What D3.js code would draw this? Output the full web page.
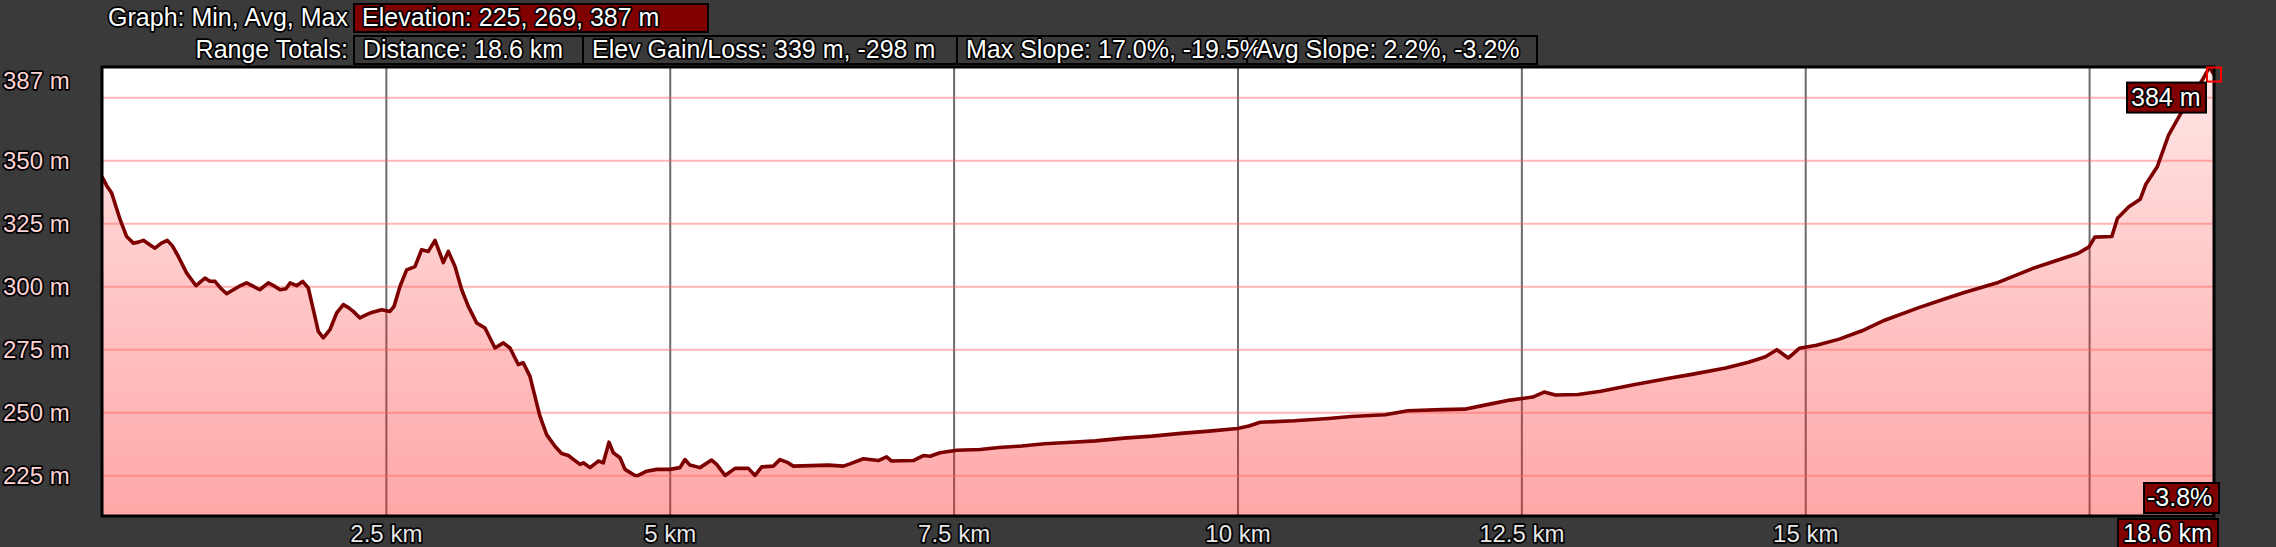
<!DOCTYPE html>
<html>
<head>
<meta charset="utf-8">
<title>Elevation profile</title>
<script src="https://d3js.org/d3.v7.min.js"></script>
<style>
  body { margin: 0; background: #3a3a3a; }
  text { font-family: "Liberation Sans", Arial, sans-serif; paint-order: stroke; stroke: #000; stroke-linejoin: round; }
</style>
</head>
<body>
<div id="chart"></div>
<script>
// distance along route (km) and elevation (m)
const distKm = [0, 0.04, 0.085, 0.12, 0.16, 0.217, 0.276, 0.32, 0.364, 0.42, 0.467, 0.52, 0.575, 0.62, 0.672,
  0.746, 0.828, 0.907, 0.95, 0.995, 1.05, 1.098, 1.157, 1.21, 1.274, 1.33, 1.39, 1.465, 1.52, 1.568, 1.62,
  1.656, 1.714, 1.767, 1.817, 1.861, 1.905, 1.949, 2.008, 2.067, 2.125, 2.17, 2.213, 2.272, 2.32, 2.375,
  2.463, 2.536, 2.572, 2.624, 2.683, 2.756, 2.815, 2.874, 2.933, 3.006, 3.05, 3.109, 3.168, 3.226, 3.3,
  3.373, 3.461, 3.534, 3.593, 3.666, 3.71, 3.769, 3.813, 3.857, 3.916, 3.989, 4.048, 4.107, 4.16, 4.21,
  4.239, 4.298, 4.371, 4.415, 4.465, 4.503, 4.562, 4.606, 4.694, 4.723, 4.797, 4.885, 5.002, 5.09, 5.134,
  5.178, 5.266, 5.369, 5.413, 5.487, 5.575, 5.692, 5.751, 5.81, 5.912, 5.971, 6.03, 6.088, 6.397, 6.529,
  6.587, 6.705, 6.837, 6.91, 6.954, 7.145, 7.233, 7.292, 7.38, 7.527, 7.732, 7.9, 8.1, 8.3, 8.5, 8.75, 9.0,
  9.25, 9.5, 9.75, 10.0, 10.1, 10.2, 10.5, 10.8, 11.0, 11.3, 11.5, 11.8, 12.0, 12.2, 12.4, 12.6, 12.7, 12.8,
  13.0, 13.2, 13.5, 13.8, 14.0, 14.3, 14.5, 14.65, 14.75, 14.85, 14.95, 15.1, 15.3, 15.5, 15.7, 16.0, 16.2,
  16.4, 16.7, 17.0, 17.2, 17.4, 17.5, 17.55, 17.7, 17.75, 17.85, 17.95, 18.0, 18.1, 18.2, 18.35, 18.5, 18.56, 18.6];
const elevM = [343.5, 340, 337, 332, 326.4, 319.7, 317.1, 317.5, 318.2, 316.5, 315.1, 317, 318.2, 316, 311.8,
  305.2, 300.2, 303.2, 302, 301.9, 299, 297, 298.6, 300, 301.3, 300, 298.6, 301.3, 300, 298.6, 299,
  301.3, 300.2, 301.9, 299.3, 290.7, 282.1, 279.5, 282.8, 289.4, 292.7, 291.5, 290, 287.4, 288.5, 289.6,
  290.7, 290, 292, 299.9, 306.5, 307.8, 314.5, 313.8, 318.2, 309.4, 313.8, 307.8, 298.6, 292, 285.4,
  283.4, 275.5, 277.5, 275.5, 268.9, 269.6, 264.2, 256.3, 248.4, 241.1, 236.5, 233.6, 232.8, 231, 229.3,
  229.9, 228, 230.6, 229.9, 238.1, 233.9, 231.9, 227.3, 224.9, 224.9, 226.6, 227.3, 227.3, 228, 231.2,
  229, 228, 231, 229.3, 224.9, 227.7, 227.7, 224.9, 228.3, 228.6, 231.2, 230.2, 228.6, 229, 228.6,
  229.5, 231.5, 230.8, 232.3, 230.6, 230.8, 232.8, 232.5, 233.9, 234.9, 235.2, 236, 236.6, 237.5, 238, 238.6, 239.7,
  240.5, 241.6, 242.5, 243.5, 244.5, 246, 246.6, 247.5, 248.3, 249, 250.6, 251, 251.2, 253, 254.8, 256, 258, 256.8,
  257, 258.3, 261, 263.5, 265, 267.5, 269.8, 272, 274.8, 271.5, 275.4, 276.6, 279, 282.3, 286.5, 291.5, 294.5,
  297.5, 301.5, 307, 310, 313, 315.6, 319.5, 319.7, 327, 331.5, 334.5, 340.5, 347.4, 360, 372, 382, 387, 384];

const xTicks = [2.5, 5, 7.5, 10, 12.5, 15, 17.5];
const xTickLabels = ["2.5 km", "5 km", "7.5 km", "10 km", "12.5 km", "15 km", ""];
const yTicks = [225, 250, 275, 300, 325, 350, 375];
const yTickLabels = ["225 m", "250 m", "275 m", "300 m", "325 m", "350 m", ""];
const yMaxLabel = "387 m";

const graphLabel = "Graph: Min, Avg, Max";
const graphStat = "Elevation: 225, 269, 387 m";
const rangeLabel = "Range Totals:";
const rangeStats = ["Distance: 18.6 km", "Elev Gain/Loss: 339 m, -298 m", "Max Slope: 17.0%, -19.5%", "Avg Slope: 2.2%, -3.2%"];

const cursorKm = 18.6, cursorElev = 384;
const cursorElevLabel = "384 m", cursorSlopeLabel = "-3.8%", cursorDistLabel = "18.6 km";

const W = 2276, H = 547;
const plot = {left: 102, right: 2214, top: 67, bottom: 516};

const svg = d3.select("#chart").append("svg")
    .attr("width", W).attr("height", H)
    .style("display", "block");

svg.append("rect").attr("width", W).attr("height", H).attr("fill", "#3a3a3a");

const x = d3.scaleLinear().domain([0, 18.6]).range([plot.left, plot.right]);
const y = d3.scaleLinear().domain([208.8, 387]).range([plot.bottom, plot.top]);

const data = distKm.map((d, i) => [d, elevM[i]]);

// gradient for the area
const defs = svg.append("defs");
const grad = defs.append("linearGradient").attr("id", "fillGrad")
    .attr("gradientUnits", "userSpaceOnUse")
    .attr("x1", 0).attr("x2", 0).attr("y1", plot.top).attr("y2", plot.bottom);
grad.append("stop").attr("offset", 0).attr("stop-color", "rgb(255,30,30)").attr("stop-opacity", 0.11);
grad.append("stop").attr("offset", 1).attr("stop-color", "rgb(255,30,30)").attr("stop-opacity", 0.39);

svg.append("rect")
    .attr("x", plot.left).attr("y", plot.top)
    .attr("width", plot.right - plot.left).attr("height", plot.bottom - plot.top)
    .attr("fill", "#fff");

// vertical grid (under the area)
const xGrid = d3.axisBottom(x).tickValues(xTicks).tickSize(-(plot.bottom - plot.top)).tickFormat("");
svg.append("g").attr("transform", `translate(0,${plot.bottom})`).call(xGrid)
    .call(g => g.select(".domain").remove())
    .selectAll("line").attr("stroke", "#6a6a6a").attr("stroke-width", 2);

// area
svg.append("path").datum(data)
    .attr("fill", "url(#fillGrad)")
    .attr("d", d3.area().x(d => x(d[0])).y0(plot.bottom).y1(d => y(d[1])));

// horizontal grid
const yGrid = d3.axisLeft(y).tickValues(yTicks).tickSize(-(plot.right - plot.left)).tickFormat("");
svg.append("g").attr("transform", `translate(${plot.left},0)`).call(yGrid)
    .call(g => g.select(".domain").remove())
    .selectAll("line").attr("stroke", "#ff5e5e").attr("stroke-opacity", 0.45).attr("stroke-width", 2);

// elevation line
svg.append("path").datum(data)
    .attr("fill", "none")
    .attr("stroke", "#7d0000")
    .attr("stroke-width", 3.6)
    .attr("stroke-linejoin", "round")
    .attr("d", d3.line().x(d => x(d[0])).y(d => y(d[1])));

// frame
svg.append("path")
    .attr("d", `M${plot.left},${plot.top}H${plot.right}V${plot.bottom}H${plot.left}Z`)
    .attr("fill", "none").attr("stroke", "#000").attr("stroke-width", 3);

// y labels
const yAxis = d3.axisLeft(y).tickValues(yTicks).tickSize(0).tickFormat((d, i) => yTickLabels[i]);
svg.append("g").call(yAxis)
    .call(g => g.select(".domain").remove())
    .selectAll("text")
    .attr("x", 3).attr("dy", "0.35em")
    .attr("text-anchor", "start")
    .attr("font-size", 24)
    .attr("fill", "#ffd4d4")
    .attr("stroke-width", 3.5);
svg.append("text").attr("x", 3).attr("y", 89)
    .attr("font-size", 24).attr("fill", "#ffd4d4").attr("stroke-width", 3.5)
    .text(yMaxLabel);

// x labels
const xAxis = d3.axisBottom(x).tickValues(xTicks).tickSize(0).tickFormat((d, i) => xTickLabels[i]);
svg.append("g").attr("transform", `translate(0,${plot.bottom})`).call(xAxis)
    .call(g => g.select(".domain").remove())
    .selectAll("text")
    .attr("y", 26).attr("dy", 0)
    .attr("font-size", 24)
    .attr("fill", "#e6e6e6")
    .attr("stroke-width", 3.5);

// header
function box(x0, y0, w, h, fill) {
  svg.append("rect").attr("x", x0).attr("y", y0).attr("width", w).attr("height", h)
     .attr("fill", fill).attr("stroke", "#000").attr("stroke-width", 2);
}
function label(x0, y0, txt, anchor, size) {
  svg.append("text").attr("x", x0).attr("y", y0)
     .attr("text-anchor", anchor || "start")
     .attr("font-size", size || 25)
     .attr("fill", "#fff").attr("stroke-width", 3.5)
     .text(txt);
}
label(348, 26, graphLabel, "end");
box(354, 4, 354, 28, "#800000");
label(362, 26, graphStat);

label(348, 58, rangeLabel, "end");
const boxX = [354, 583, 957, 1247, 1537];
rangeStats.forEach((s, i) => {
  box(boxX[i], 36, boxX[i + 1] - boxX[i], 28, "#3a3a3a");
});
rangeStats.forEach((s, i) => label(boxX[i] + 9, 58, s));

// cursor readout
const cx = x(cursorKm), cy = y(cursorElev);
svg.append("rect").attr("x", cx - 7).attr("y", cy - 7).attr("width", 14).attr("height", 14)
    .attr("fill", "none").attr("stroke", "#ff0000").attr("stroke-width", 2);
box(cx - 87, cy + 8, 79, 30, "#800000");
label(cx - 83, cy + 31, cursorElevLabel);
box(cx - 70, 483, 75, 30, "#800000");
label(cx - 67, 506, cursorSlopeLabel);
box(cx - 96, 519, 100, 30, "#800000");
label(cx - 91, 542, cursorDistLabel);
</script>
</body>
</html>
